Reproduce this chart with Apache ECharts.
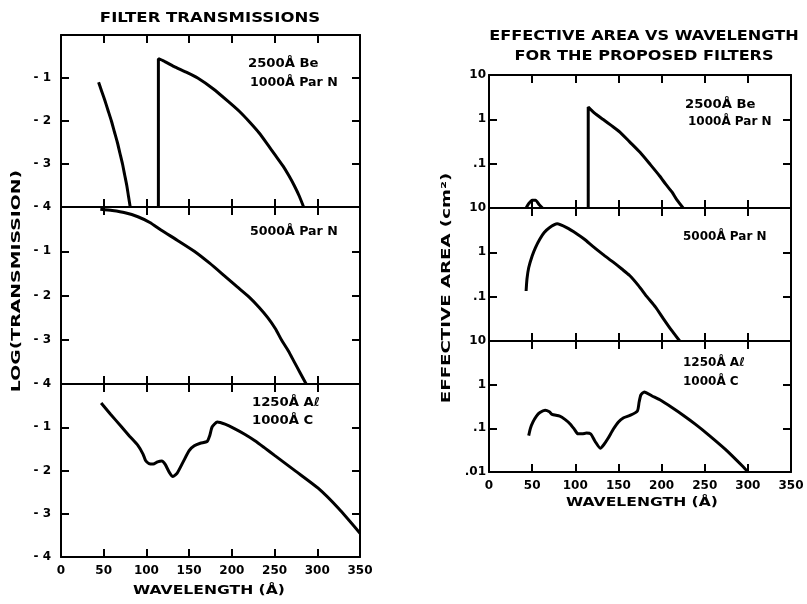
<!DOCTYPE html>
<html><head><meta charset="utf-8">
<script src="https://cdn.jsdelivr.net/npm/echarts@6/dist/echarts.min.js"></script>
<style>html,body{margin:0;padding:0;background:#fff}#c{width:807px;height:604px}</style>
</head><body><div id="c"></div>
<script>
// ---- data (wavelength in Å) ----
const xTickValues = [0, 50, 100, 150, 200, 250, 300, 350];
const logTicks = [0, -1, -2, -3, -4];
const areaTickLabels = {'1': '10', '0': '1', '-1': '.1', '-2': '.01'};

// Filter transmissions, log10(transmission)
const transBeLow  = [[44,-1.1],[47.5,-1.3],[51,-1.5],[55,-1.75],[59,-2.0],[62.5,-2.25],[66,-2.5],[69,-2.75],[72,-3.0],[74.5,-3.25],[77,-3.5],[79,-3.75],[81,-4.0]];
const transBeHigh = [[114,-4.0],[114,-0.55],[120,-0.6],[132,-0.73],[145,-0.85],[160,-1.0],[178,-1.25],[196,-1.55],[209,-1.78],[221,-2.03],[232,-2.28],[242,-2.55],[251,-2.8],[260,-3.05],[267,-3.28],[273,-3.5],[279,-3.75],[284,-4.0]];
const transParN   = [[46,-0.05],[60,-0.08],[75,-0.13],[90,-0.22],[104,-0.35],[117,-0.52],[136,-0.75],[156,-1.0],[174,-1.27],[191,-1.55],[206,-1.8],[220,-2.03],[232,-2.27],[242,-2.5],[251,-2.75],[258,-3.0],[266,-3.25],[273,-3.5],[280,-3.75],[287,-4.0]];
const transAlC    = [[47,-0.44],[58,-0.7],[70,-0.97],[80,-1.2],[90,-1.42],[96,-1.62],[99,-1.77],[103,-1.84],[108,-1.85],[113,-1.8],[118,-1.78],[122,-1.86],[127,-2.05],[131,-2.14],[136,-2.06],[143,-1.8],[150,-1.54],[156,-1.43],[163,-1.37],[171,-1.33],[174,-1.2],[177,-0.99],[183,-0.88],[192,-0.93],[203,-1.03],[215,-1.16],[227,-1.31],[238,-1.47],[250,-1.65],[275,-2.02],[301,-2.41],[325,-2.88],[350,-3.45]];

// Effective area, cm^2
const areaBeBump = [[43,0.01],[46,0.0125],[50,0.015],[54,0.015],[58,0.012],[62,0.01]];
const areaBe     = [[115,0.01],[115,1.9],[122,1.4],[132,1.0],[142,0.72],[152,0.51],[163,0.31],[175,0.18],[187,0.095],[198,0.052],[205,0.034],[212,0.023],[218,0.015],[225,0.01]];
const areaParN   = [[43,0.134],[44,0.25],[46,0.45],[50,0.83],[54,1.3],[59,2.0],[64,2.8],[70,3.6],[79,4.4],[90,3.6],[102,2.6],[111,1.95],[120,1.38],[132,0.9],[144,0.6],[154,0.42],[163,0.3],[173,0.18],[183,0.1],[193,0.058],[202,0.032],[211,0.018],[221,0.01]];
const areaAlC    = [[46,0.068],[48,0.1],[51,0.14],[55,0.19],[59,0.23],[65,0.26],[70,0.24],[73,0.21],[82,0.19],[88,0.16],[94,0.126],[99,0.095],[103,0.075],[108,0.075],[113,0.078],[118,0.074],[123,0.05],[129,0.035],[133,0.042],[138,0.059],[144,0.095],[150,0.14],[156,0.175],[164,0.2],[172,0.25],[174,0.4],[176,0.58],[180,0.68],[189,0.55],[198,0.45],[212,0.3],[225,0.2],[239,0.125],[253,0.075],[274,0.033],[294,0.0135],[300,0.01]];

// ---- layout ----
const FONT = '"DejaVu Sans", sans-serif';
const leftGrids  = [{top:35,height:172},{top:207,height:177},{top:384,height:173}];
const rightGrids = [{top:75,height:133},{top:208,height:133},{top:341,height:131}];
const leftSeries  = [[transBeLow, transBeHigh],[transParN],[transAlC]];
const rightSeries = [[areaBeBump, areaBe],[areaParN],[areaAlC]];

const grid = [], xAxis = [], yAxis = [], series = [];
const lineC = () => ({show:true, onZero:false, lineStyle:{color:'#000', width:2}});
const tick = () => ({show:true, inside:true, length:8, lineStyle:{color:'#000', width:2}});
const lab = (extra) => Object.assign({color:'#000', fontFamily:FONT, fontWeight:'bold', fontSize:12}, extra);

function addPanel(grids, left, width, isLog, seriesSets) {
  grids.forEach((g, i) => {
    const gi = grid.length;
    grid.push({left:left, width:width, top:g.top, height:g.height, containLabel:false});
    const bottom = i === grids.length - 1;
    const xb = xAxis.length;
    xAxis.push({type:'value', gridIndex:gi, position:'bottom', min:0, max:350, interval:50,
      axisLine:lineC(), axisTick:tick(), splitLine:{show:false},
      axisLabel:lab({show:bottom, margin:8})});
    xAxis.push({type:'value', gridIndex:gi, position:'top', min:0, max:350, interval:50,
      axisLine:lineC(), axisTick:tick(), splitLine:{show:false},
      axisLabel:{show:false}});
    const yl = yAxis.length;
    if (isLog) {
      yAxis.push({type:'log', logBase:10, gridIndex:gi, position:'left', min:0.01, max:10,
        axisLine:lineC(), axisTick:tick(), splitLine:{show:false}, minorTick:{show:false},
        axisLabel:lab({margin:3, formatter:(v) => {
          const k = Math.round(Math.log10(v));
          if (k === -2 && !bottom) return '';
          return areaTickLabels[String(k)] || '';
        }})});
      yAxis.push({type:'log', logBase:10, gridIndex:gi, position:'right', min:0.01, max:10,
        axisLine:lineC(), axisTick:tick(), splitLine:{show:false}, axisLabel:{show:false}});
    } else {
      yAxis.push({type:'value', gridIndex:gi, position:'left', min:-4, max:0, interval:1,
        axisLine:lineC(), axisTick:tick(), splitLine:{show:false},
        axisLabel:lab({margin:10, formatter:(v) => v === 0 ? '' : '- ' + Math.abs(v)})});
      yAxis.push({type:'value', gridIndex:gi, position:'right', min:-4, max:0, interval:1,
        axisLine:lineC(), axisTick:tick(), splitLine:{show:false}, axisLabel:{show:false}});
    }
    seriesSets[i].forEach(d => {
      series.push({type:'line', xAxisIndex:xb, yAxisIndex:yl, data:d, symbol:'none', smooth:0.2,
        lineStyle:{color:'#000', width:3}, silent:true, animation:false, clip:true});
    });
  });
}
addPanel(leftGrids, 61, 299, false, leftSeries);
addPanel(rightGrids, 489, 302, true, rightSeries);

function txt(text, x, y, size, opts) {
  opts = opts || {};
  return {type:'text', x:x, y:y, rotation:opts.rot || 0, scaleX:opts.sx || 1, scaleY:1, silent:true,
    style:{text:text, fill:'#000', font:'bold ' + size + 'px ' + FONT,
      align:opts.align || 'center', textAlign:opts.align || 'center',
      verticalAlign:'middle', textVerticalAlign:'middle'}};
}
const graphic = [
  txt('FILTER TRANSMISSIONS', 210, 18, 14, {sx:1.18}),
  txt('EFFECTIVE AREA VS WAVELENGTH', 644, 36, 14, {sx:1.15}),
  txt('FOR THE PROPOSED FILTERS', 644, 56, 14, {sx:1.15}),
  txt('LOG(TRANSMISSION)', 17, 281, 13, {rot:Math.PI/2, sx:1.45}),
  txt('EFFECTIVE AREA (cm²)', 447, 288, 13, {rot:Math.PI/2, sx:1.4}),
  txt('WAVELENGTH (Å)', 209, 591, 13, {sx:1.2}),
  txt('WAVELENGTH (Å)', 642, 503, 13, {sx:1.2}),
  txt('2500Å Be', 248, 64, 12, {align:'left', sx:1.1}),
  txt('1000Å Par N', 250, 83, 12, {align:'left', sx:1.05}),
  txt('5000Å Par N', 250, 232, 12, {align:'left', sx:1.05}),
  txt('1250Å Aℓ', 252, 403, 12, {align:'left', sx:1.1}),
  txt('1000Å C', 252, 421, 12, {align:'left', sx:1.1}),
  txt('2500Å Be', 685, 105, 12, {align:'left', sx:1.1}),
  txt('1000Å Par N', 688, 122, 12, {align:'left', sx:1.0}),
  txt('5000Å Par N', 683, 237, 12, {align:'left', sx:1.0}),
  txt('1250Å Aℓ', 683, 363, 12, {align:'left', sx:1.0}),
  txt('1000Å C', 683, 382, 12, {align:'left', sx:1.0})
];

const chart = echarts.init(document.getElementById('c'), null, {renderer:'canvas'});
chart.setOption({backgroundColor:'#fff', animation:false, grid:grid, xAxis:xAxis, yAxis:yAxis, series:series, graphic:graphic});
</script>
</body></html>
